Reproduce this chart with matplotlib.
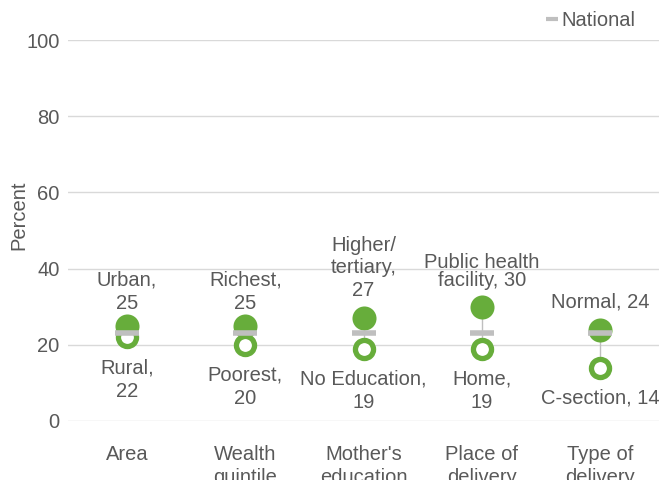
import matplotlib
matplotlib.use("Agg")
import matplotlib.pyplot as plt
from matplotlib.lines import Line2D

plt.rcParams['font.family'] = ['Liberation Sans', 'DejaVu Sans']

categories = ["Area", "Wealth\nquintile", "Mother's\neducation", "Place of\ndelivery", "Type of\ndelivery"]
high_labels = ["Urban,\n25", "Richest,\n25", "Higher/\ntertiary,\n27", "Public health\nfacility, 30", "Normal, 24"]
high_values = [25, 25, 27, 30, 24]
low_labels = ["Rural,\n22", "Poorest,\n20", "No Education,\n19", "Home,\n19", "C-section, 14"]
low_values = [22, 20, 19, 19, 14]
national = [23, 23, 23, 23, 23]
yticks = [0, 20, 40, 60, 80, 100]

green = "#67AD3B"
grey_text = "#595959"
dash_grey = "#BFBFBF"
FS = 14.5

# label placement (points from the marker) and line spacing per group
above_offset = [9, 9, 13, 12, 13]
above_spacing = [1.32, 1.32, 1.25, 0.95, 1.0]

fig = plt.figure(figsize=(6.61, 4.80), dpi=100)
ax = fig.add_axes([68 / 661, 1 - 421 / 480, 591 / 661, 381 / 480])

x = list(range(len(categories)))

# connector between the two group values
for xi, hi, lo in zip(x, high_values, low_values):
    ax.plot([xi, xi], [lo, hi], color="#BFBFBF", lw=1, zorder=2)

ax.scatter(x, high_values, s=300, color=green, zorder=3, linewidths=0)
ax.scatter(x, low_values, s=170, facecolor="white", edgecolor=green, linewidths=3.8, zorder=3)
ax.scatter(x, national, s=280, marker="_", color=dash_grey, linewidths=4, zorder=4)

for xi, val, lab, off, sp in zip(x, high_values, high_labels, above_offset, above_spacing):
    ax.annotate(lab, (xi, val), xytext=(0, off), textcoords="offset points",
                ha="center", va="bottom", fontsize=FS, color=grey_text, linespacing=sp)
for xi, val, lab in zip(x, low_values, low_labels):
    ax.annotate(lab, (xi, val), xytext=(0, -15), textcoords="offset points",
                ha="center", va="top", fontsize=FS, color=grey_text, linespacing=1.32)

ax.set_xlim(-0.5, 4.5)
ax.set_ylim(0, 100)
ax.set_yticks(yticks)
ax.set_xticks(x)
ax.set_xticklabels(categories, fontsize=FS, color=grey_text, linespacing=1.28, va="top")
ax.tick_params(axis="x", length=0, pad=17)
ax.tick_params(axis="y", length=0, pad=6, labelsize=FS, labelcolor=grey_text)
ax.grid(axis="y", color="#D9D9D9", lw=1)
ax.set_axisbelow(True)
for s in ax.spines.values():
    s.set_visible(False)

ax.set_ylabel("Percent", fontsize=FS, color=grey_text)
ax.yaxis.set_label_coords(-40 / 591, (421 - 215) / 381)

handle = Line2D([], [], marker="_", color=dash_grey, linestyle="none", markersize=9, markeredgewidth=3)
fig.legend([handle], ["National"], loc="center", bbox_to_anchor=(591 / 661, 1 - 21 / 480),
           frameon=False, fontsize=FS, labelcolor=grey_text, handlelength=0.6, handletextpad=0.15,
           borderaxespad=0, borderpad=0)

fig.savefig("out.png", dpi=100)
